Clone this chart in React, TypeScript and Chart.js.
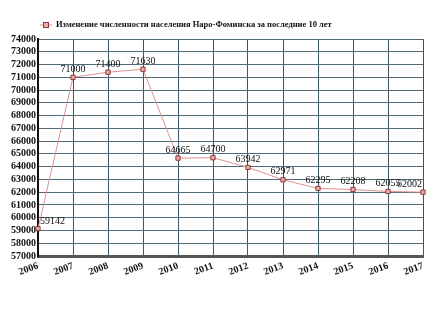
import React, { useEffect, useRef } from "react";
import { Chart, registerables } from "chart.js";

Chart.register(...registerables);

const years = ["2006", "2007", "2008", "2009", "2010", "2011", "2012", "2013", "2014", "2015", "2016", "2017"];
const population = [59142, 71000, 71400, 71630, 64665, 64700, 63942, 62971, 62295, 62208, 62055, 62002];
const seriesLabel = "Изменение численности населения Наро-Фоминска за последние 10 лет";
const yMin = 57000;
const yMax = 74000;
const yStep = 1000;

const SERIF = "'Liberation Serif', 'DejaVu Serif', serif";

const labelPlugin = {
  id: "valueLabels",
  afterDatasetsDraw(chart: any) {
    const ctx = chart.ctx;
    const meta = chart.getDatasetMeta(0);
    const data = chart.data.datasets[0].data as number[];
    ctx.save();
    ctx.font = `10px ${SERIF}`;
    ctx.fillStyle = "#111";
    ctx.textBaseline = "bottom";
    meta.data.forEach((pt: any, i: number) => {
      const txt = String(data[i]);
      if (i === 0) {
        ctx.textAlign = "left";
        ctx.fillText(txt, pt.x + 2, pt.y - 2);
      } else if (i === data.length - 1) {
        ctx.textAlign = "right";
        ctx.fillText(txt, pt.x - 1, pt.y - 3);
      } else {
        ctx.textAlign = "center";
        ctx.fillText(txt, pt.x, pt.y - 3);
      }
    });
    ctx.restore();
  },
};

const legendPlugin = {
  id: "customLegend",
  afterDraw(chart: any) {
    const ctx = chart.ctx;
    ctx.save();
    const y = 25;
    ctx.strokeStyle = "#e09090";
    ctx.lineWidth = 1;
    ctx.beginPath();
    ctx.moveTo(40, y);
    ctx.lineTo(52, y);
    ctx.stroke();
    ctx.fillStyle = "#e8b0a8";
    ctx.strokeStyle = "#8b3a3a";
    ctx.fillRect(43, y - 3, 6, 6);
    ctx.strokeRect(43.5, y - 2.5, 5, 5);
    ctx.font = `bold 8.5px ${SERIF}`;
    ctx.fillStyle = "#111";
    ctx.textAlign = "left";
    ctx.textBaseline = "middle";
    ctx.fillText(seriesLabel, 56, y);
    ctx.restore();
  },
};

export default function App() {
  const ref = useRef<HTMLCanvasElement>(null);
  useEffect(() => {
    if (!ref.current) return;
    const chart = new Chart(ref.current, {
      type: "line",
      data: {
        labels: years,
        datasets: [
          {
            label: seriesLabel,
            data: population,
            borderColor: "#e09090",
            borderWidth: 1,
            pointStyle: "rect",
            pointRadius: 3,
            pointBackgroundColor: "#e8b0a8",
            pointBorderColor: "#8b3a3a",
            pointBorderWidth: 1,
            tension: 0,
          },
        ],
      },
      options: {
        animation: false,
        responsive: false,
        maintainAspectRatio: false,
        layout: { padding: { top: 39, right: 12, left: 0, bottom: 0 } },
        plugins: {
          legend: { display: false },
          tooltip: { enabled: false },
        },
        scales: {
          x: {
            type: "category",
            offset: false,
            afterFit(scale: any) {
              scale.height = 64;
            },
            grid: {
              color: "#3d5664",
              lineWidth: 1,
              drawTicks: false,
            },
            border: { color: "#555", width: 3 },
            ticks: {
              font: { family: SERIF, size: 10, weight: "bold" },
              color: "#111",
              maxRotation: 20,
              minRotation: 20,
              padding: 4,
              autoSkip: false,
            },
          },
          y: {
            min: yMin,
            max: yMax,
            afterFit(scale: any) {
              scale.width = 38;
            },
            grid: {
              color: "#4f6a76",
              lineWidth: 1,
              drawTicks: false,
            },
            border: { color: "#111", width: 2 },
            ticks: {
              stepSize: yStep,
              autoSkip: false,
              callback: (v: any) => String(v),
              font: { family: SERIF, size: 10, weight: "bold" },
              color: "#111",
              padding: 2,
            },
          },
        },
      },
      plugins: [labelPlugin, legendPlugin],
    } as any);
    return () => chart.destroy();
  }, []);
  return (
    <div style={{ position: "fixed", left: 0, top: 0, width: 435, height: 320, background: "#fff" }}>
      <canvas ref={ref} width={435} height={320} style={{ width: 435, height: 320 }} />
    </div>
  );
}
